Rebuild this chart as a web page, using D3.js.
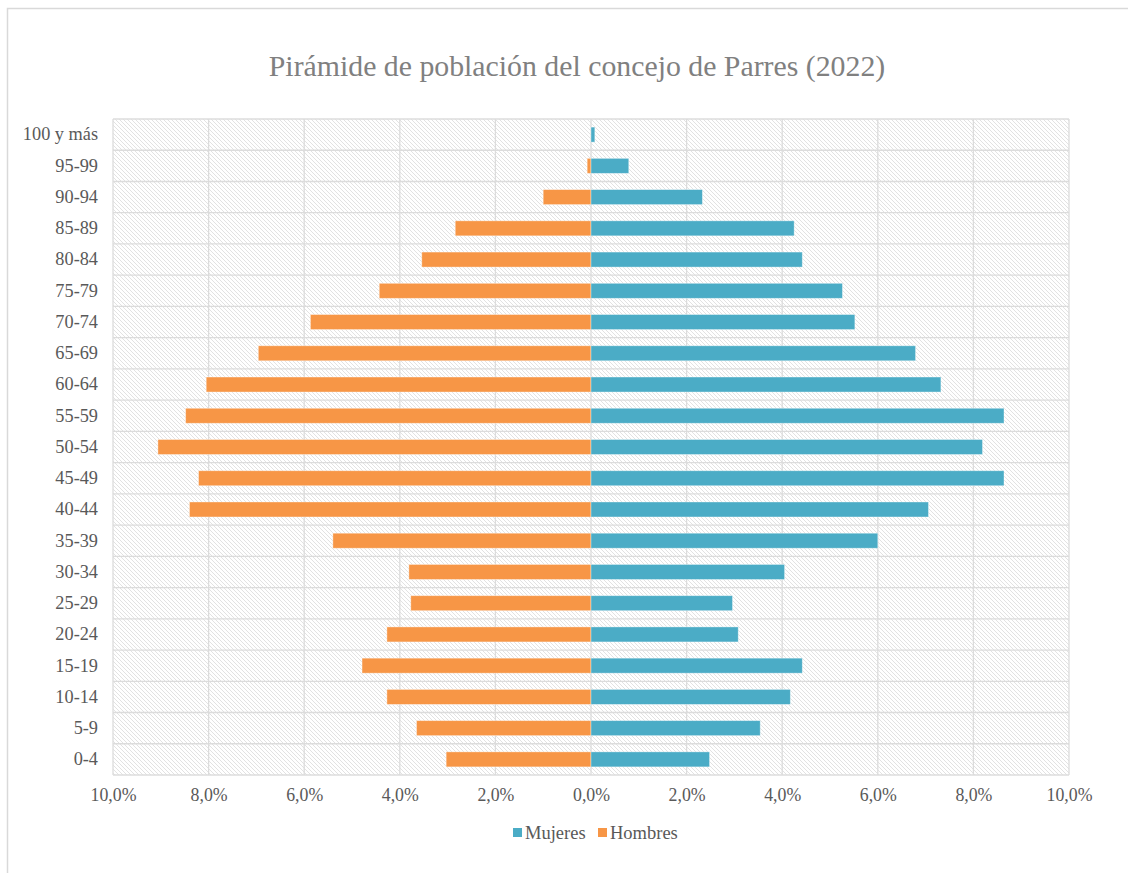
<!DOCTYPE html>
<html>
<head>
<meta charset="utf-8">
<script src="https://cdn.jsdelivr.net/npm/d3@7"></script>
<style>
  html, body { margin: 0; padding: 0; background: #fff; }
  svg { display: block; }
  text { font-family: "Liberation Serif", "Times New Roman", serif; }
</style>
</head>
<body>
<svg id="chart" width="1128" height="873"></svg>
<script>
// ---- Data ----
const title = "Pirámide de población del concejo de Parres (2022)";
const categories = ["100 y más","95-99","90-94","85-89","80-84","75-79","70-74","65-69","60-64","55-59","50-54","45-49","40-44","35-39","30-34","25-29","20-24","15-19","10-14","5-9","0-4"];
const mujeres = [0.08,0.79,2.33,4.25,4.42,5.26,5.52,6.79,7.32,8.64,8.19,8.64,7.06,6.00,4.05,2.96,3.08,4.42,4.17,3.54,2.48];
const hombres = [0,0.08,1.00,2.84,3.54,4.43,5.87,6.96,8.05,8.48,9.06,8.21,8.40,5.40,3.81,3.77,4.27,4.79,4.27,3.65,3.03];
const tickValues = [-10,-8,-6,-4,-2,0,2,4,6,8,10];
const seriesNames = ["Mujeres","Hombres"];
const seriesColors = ["#4BACC6","#F79646"];

// ---- Layout ----
const svg = d3.select("#chart");
const pL = 113, pR = 1069, pT = 119, pB = 775;
const serif = "'Liberation Serif', 'Times New Roman', serif";

const x = d3.scaleLinear().domain([-10, 10]).range([pL, pR]);
const y = d3.scaleBand().domain(categories).range([pT, pB]).paddingInner(0.52).paddingOuter(0.26);

// chart frame
svg.append("rect").attr("x", 7.5).attr("y", 8.5).attr("width", 1140).attr("height", 900)
  .attr("fill", "#fff").attr("stroke", "#d9d9d9").attr("stroke-width", 1.5);

// hatch pattern
const defs = svg.append("defs");
const pat = defs.append("pattern").attr("id", "hatch").attr("patternUnits", "userSpaceOnUse")
  .attr("width", 4).attr("height", 4);
pat.append("rect").attr("width", 4).attr("height", 4).attr("fill", "#fff");
pat.append("path").attr("d", "M-1,-1 L5,5 M-1,3 L1,5 M3,-1 L5,1")
  .attr("stroke", "#e2e2e2").attr("stroke-width", 1);

svg.append("rect").attr("x", pL).attr("y", pT).attr("width", pR - pL).attr("height", pB - pT)
  .attr("fill", "url(#hatch)");

// gridlines
const step = y.step();
const hLines = d3.range(categories.length + 1).map(i => pT + i * step);
svg.append("g").selectAll("line").data(hLines).join("line")
  .attr("x1", pL).attr("x2", pR).attr("y1", d => d).attr("y2", d => d)
  .attr("stroke", "#dcdcdc").attr("stroke-width", 1.3);
svg.append("g").selectAll("line").data(tickValues).join("line")
  .attr("x1", d => x(d)).attr("x2", d => x(d)).attr("y1", pT).attr("y2", pB)
  .attr("stroke", "#dcdcdc").attr("stroke-width", 1.3);

// bars
const barsG = svg.append("g");
barsG.selectAll("rect.h").data(categories).join("rect").attr("class", "h")
  .attr("x", (d, i) => x(-hombres[i])).attr("width", (d, i) => x(0) - x(-hombres[i]))
  .attr("y", d => y(d)).attr("height", y.bandwidth())
  .attr("fill", seriesColors[1])
  .attr("stroke", "rgba(255,255,255,0.45)").attr("stroke-width", 0.8)
  .style("display", (d, i) => hombres[i] > 0 ? null : "none");
barsG.selectAll("rect.m").data(categories).join("rect").attr("class", "m")
  .attr("x", x(0)).attr("width", (d, i) => x(mujeres[i]) - x(0))
  .attr("y", d => y(d)).attr("height", y.bandwidth())
  .attr("fill", seriesColors[0])
  .attr("stroke", "rgba(255,255,255,0.45)").attr("stroke-width", 0.8);

// axes
const fmt = d => Math.abs(d).toFixed(1).replace(".", ",") + "%";
const xAxis = svg.append("g").attr("transform", `translate(0,${pB + 13})`)
  .call(d3.axisBottom(x).tickValues(tickValues).tickFormat(fmt).tickSize(0).tickPadding(0));
xAxis.select(".domain").remove();
xAxis.selectAll("text").attr("fill", "#595959").style("font-size", "17.8px")
  .style("font-family", serif).attr("dy", "0.75em");

const yAxis = svg.append("g").attr("transform", `translate(${pL - 15},0)`)
  .call(d3.axisLeft(y).tickSize(0).tickPadding(0));
yAxis.select(".domain").remove();
yAxis.selectAll("text").attr("fill", "#595959").style("font-size", "18.3px")
  .style("font-family", serif);

// title
svg.append("text").attr("x", 577).attr("y", 76).attr("text-anchor", "middle")
  .attr("fill", "#808080").style("font-size", "29.8px").style("font-family", serif).text(title);

// legend
const legend = svg.append("g").attr("transform", "translate(513,833)");
const legendX = [0, 85];
seriesNames.forEach((n, i) => {
  const g = legend.append("g").attr("transform", `translate(${legendX[i]},0)`);
  g.append("rect").attr("x", 0).attr("y", -5).attr("width", 9).attr("height", 9).attr("fill", seriesColors[i]);
  g.append("text").attr("x", 12).attr("y", 0).attr("dy", "0.35em").attr("fill", "#595959")
    .style("font-size", "18.5px").style("font-family", serif).text(n);
});
</script>
</body>
</html>
